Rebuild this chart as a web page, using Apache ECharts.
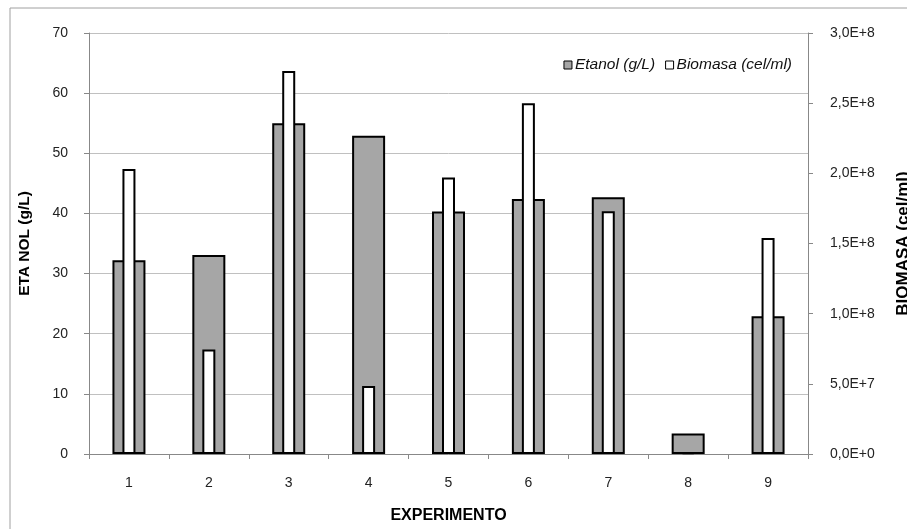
<!DOCTYPE html>
<html>
<head>
<meta charset="utf-8">
<script src="https://cdn.jsdelivr.net/npm/echarts@6/dist/echarts.min.js"></script>
<style>html,body{margin:0;padding:0;background:#fff;}#c{width:907px;height:529px;}</style>
</head>
<body>
<div id="c"></div>
<script>
const categories = ['1','2','3','4','5','6','7','8','9'];
const etanol = [32.2, 33.1, 55.0, 52.9, 40.3, 42.4, 42.7, 3.4, 22.9];
const biomasa = [2.03e8, 7.45e7, 2.73e8, 4.85e7, 1.97e8, 2.50e8, 1.73e8, 1.2e6, 1.54e8];

function sci(v){
  if (v === 0) return '0,0E+0';
  const e = Math.floor(Math.log10(v) + 1e-9);
  const m = v / Math.pow(10, e);
  return m.toFixed(1).replace('.', ',') + 'E+' + e;
}

const chart = echarts.init(document.getElementById('c'));
const tickFont = {fontFamily: 'Liberation Sans', fontSize: 14, color: '#222'};
chart.setOption({
  animation: false,
  backgroundColor: '#fff',
  graphic: [{type: 'rect', shape: {x: 10, y: 8, width: 1000, height: 1000}, style: {fill: 'none', stroke: '#a0a0a0', lineWidth: 1}, silent: true, z: -1}],
  grid: {left: 89, right: 99, top: 33, bottom: 75, containLabel: false, outerBoundsMode: 'none'},
  legend: {
    right: 110, top: 52, itemWidth: 8, itemHeight: 8, itemGap: 10,
    textStyle: {fontFamily: 'Liberation Sans', fontStyle: 'italic', fontSize: 15.5, color: '#111', padding: [0,0,0,-2]},
    data: [
      {name: 'Etanol (g/L)', icon: 'rect', itemStyle: {color: '#a6a6a6', borderColor: '#000', borderWidth: 1}},
      {name: 'Biomasa (cel/ml)', icon: 'rect', itemStyle: {color: '#fff', borderColor: '#000', borderWidth: 1}}
    ]
  },
  xAxis: [
    {type: 'category', data: categories, boundaryGap: true,
     name: 'EXPERIMENTO', nameLocation: 'middle', nameGap: 54,
     nameTextStyle: {fontFamily: 'Liberation Sans', fontWeight: 'bold', fontSize: 16, color: '#000'},
     axisLine: {lineStyle: {color: '#888', width: 1}},
     axisTick: {show: true, length: 5, alignWithLabel: false, lineStyle: {color: '#888'}},
     axisLabel: Object.assign({margin: 22}, tickFont)},
    {type: 'category', data: categories, show: false, position: 'bottom'}
  ],
  yAxis: [
    {type: 'value', min: 0, max: 70, interval: 10, position: 'left',
     name: 'ETA NOL (g/L)', nameLocation: 'middle', nameGap: 56,
     nameTextStyle: {fontFamily: 'Liberation Sans', fontWeight: 'bold', fontSize: 15.5, color: '#000'},
     axisLine: {show: true, lineStyle: {color: '#888'}},
     axisTick: {show: true, length: 5, lineStyle: {color: '#888'}},
     axisLabel: Object.assign({margin: 21}, tickFont),
     splitLine: {show: true, lineStyle: {color: '#c0c0c0', width: 1}}},
    {type: 'value', min: 0, max: 3e8, interval: 5e7, position: 'right',
     name: 'BIOMASA (cel/ml)', nameLocation: 'middle', nameGap: 104, nameRotate: 90,
     nameTextStyle: {fontFamily: 'Liberation Sans', fontWeight: 'bold', fontSize: 17, color: '#000', verticalAlign: 'bottom'},
     axisLine: {show: true, lineStyle: {color: '#888'}},
     axisTick: {show: true, length: 5, lineStyle: {color: '#888'}},
     axisLabel: Object.assign({margin: 22, formatter: sci}, tickFont),
     splitLine: {show: false}}
  ],
  series: [
    {name: 'Etanol (g/L)', type: 'bar', xAxisIndex: 0, yAxisIndex: 0, data: etanol, barWidth: 33,
     itemStyle: {color: '#a6a6a6', borderColor: '#000', borderWidth: 2}, z: 2},
    {name: 'Biomasa (cel/ml)', type: 'bar', xAxisIndex: 1, yAxisIndex: 1, data: biomasa, barWidth: 13,
     itemStyle: {color: '#fff', borderColor: '#000', borderWidth: 2}, z: 3}
  ]
});
</script>
</body>
</html>
